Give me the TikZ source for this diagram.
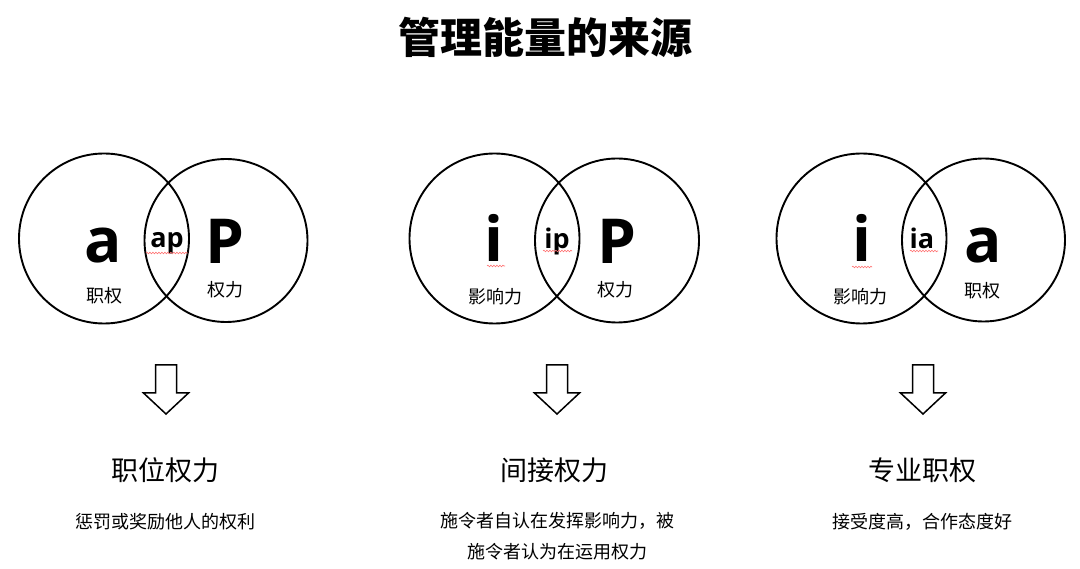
\documentclass[tikz,border=0pt]{standalone}
\usepackage{fontspec}
\newfontfamily\cjk{Noto Sans CJK SC}
\newfontfamily\latin{Open Sans}
\usetikzlibrary{decorations.pathmorphing}
\tikzset{
  venn/.style={draw=black, line width=1.9pt, circle, minimum size=#1, inner sep=0pt},
  big/.style={font=\latin\bfseries\fontsize{62}{62}\selectfont, anchor=base, inner sep=0pt},
  mid/.style={font=\latin\bfseries\fontsize{27}{27}\selectfont, anchor=base, inner sep=0pt},
  lbl/.style={font=\cjk\fontsize{18}{18}\selectfont, inner sep=0pt},
  head/.style={font=\cjk\fontsize{27}{27}\selectfont, inner sep=0pt},
  desc/.style={font=\cjk\fontsize{18}{32}\selectfont, inner sep=0pt, align=center},
  wavy/.style={draw=red!55, line width=0.6pt, decorate, decoration={snake, segment length=3pt, amplitude=0.8pt}},
  blockarrow/.pic={\draw[line width=1.5pt, line join=miter] (-10.5,0) -- (10.5,0) -- (10.5,28) -- (22.5,28) -- (0,49) -- (-22.5,28) -- (-10.5,28) -- cycle;}
}
\begin{document}
\begin{tikzpicture}[x=1pt,y=-1pt]
\useasboundingbox[fill=white] (0,0) rectangle (1080,569);
% title
\node[font=\cjk\bfseries\fontsize{42}{42}\selectfont, inner sep=0pt] (title) at (545,37) {管理能量的来源};

% set 1
\node[venn=170pt] (c1l) at (104,238.5) {};
\node[venn=163pt] (c1r) at (226,240.5) {};
\node[big] (a1) at (103,263) {a};
\node[big] (p1) at (225,264) {P};
\node[mid] (ap) at (167,248) {ap};
\node[lbl] (l1a) at (104,296) {职权};
\node[lbl] (l1b) at (225,290) {权力};
\coordinate (w1s) at (146,253); \coordinate (w1e) at (188,253);
\path[wavy] (w1s) -- (w1e);

% set 2
\node[venn=170pt] (c2l) at (494.5,238.5) {};
\node[venn=164pt] (c2r) at (617,240.5) {};
\node[big] (i2) at (494,262) {i};
\node[big] (p2) at (617,264) {P};
\node[mid] (ip) at (557,249) {ip};
\node[lbl] (l2a) at (495,297) {影响力};
\node[lbl] (l2b) at (615,290) {权力};
\coordinate (w2s) at (487,266); \coordinate (w2e) at (505,266);
\path[wavy] (w2s) -- (w2e);
\coordinate (w3s) at (543,251); \coordinate (w3e) at (572,251);
\path[wavy] (w3s) -- (w3e);

% set 3
\node[venn=170pt] (c3l) at (861.5,238.5) {};
\node[venn=163pt] (c3r) at (983.5,240) {};
\node[big] (i3) at (862,262) {i};
\node[big] (a3) at (983,263) {a};
\node[mid] (ia) at (922,249) {ia};
\node[lbl] (l3a) at (860,297) {影响力};
\node[lbl] (l3b) at (982,291) {职权};
\coordinate (w4s) at (852,267); \coordinate (w4e) at (872,267);
\path[wavy] (w4s) -- (w4e);
\coordinate (w5s) at (910,251); \coordinate (w5e) at (938,251);
\path[wavy] (w5s) -- (w5e);

% arrows
\pic at (166,365) {blockarrow};
\pic at (557,365) {blockarrow};
\pic at (923,365) {blockarrow};

% headings
\node[head] (h1) at (165,470) {职位权力};
\node[head] (h2) at (554,470) {间接权力};
\node[head] (h3) at (922,470) {专业职权};

% descriptions
\node[desc] (d1) at (165,522) {惩罚或奖励他人的权利};
\node[desc] (d2a) at (557,521) {施令者自认在发挥影响力，被};
\node[desc] (d2b) at (557,552) {施令者认为在运用权力};
\node[desc] (d3) at (922,522) {接受度高，合作态度好};
\end{tikzpicture}
\end{document}
